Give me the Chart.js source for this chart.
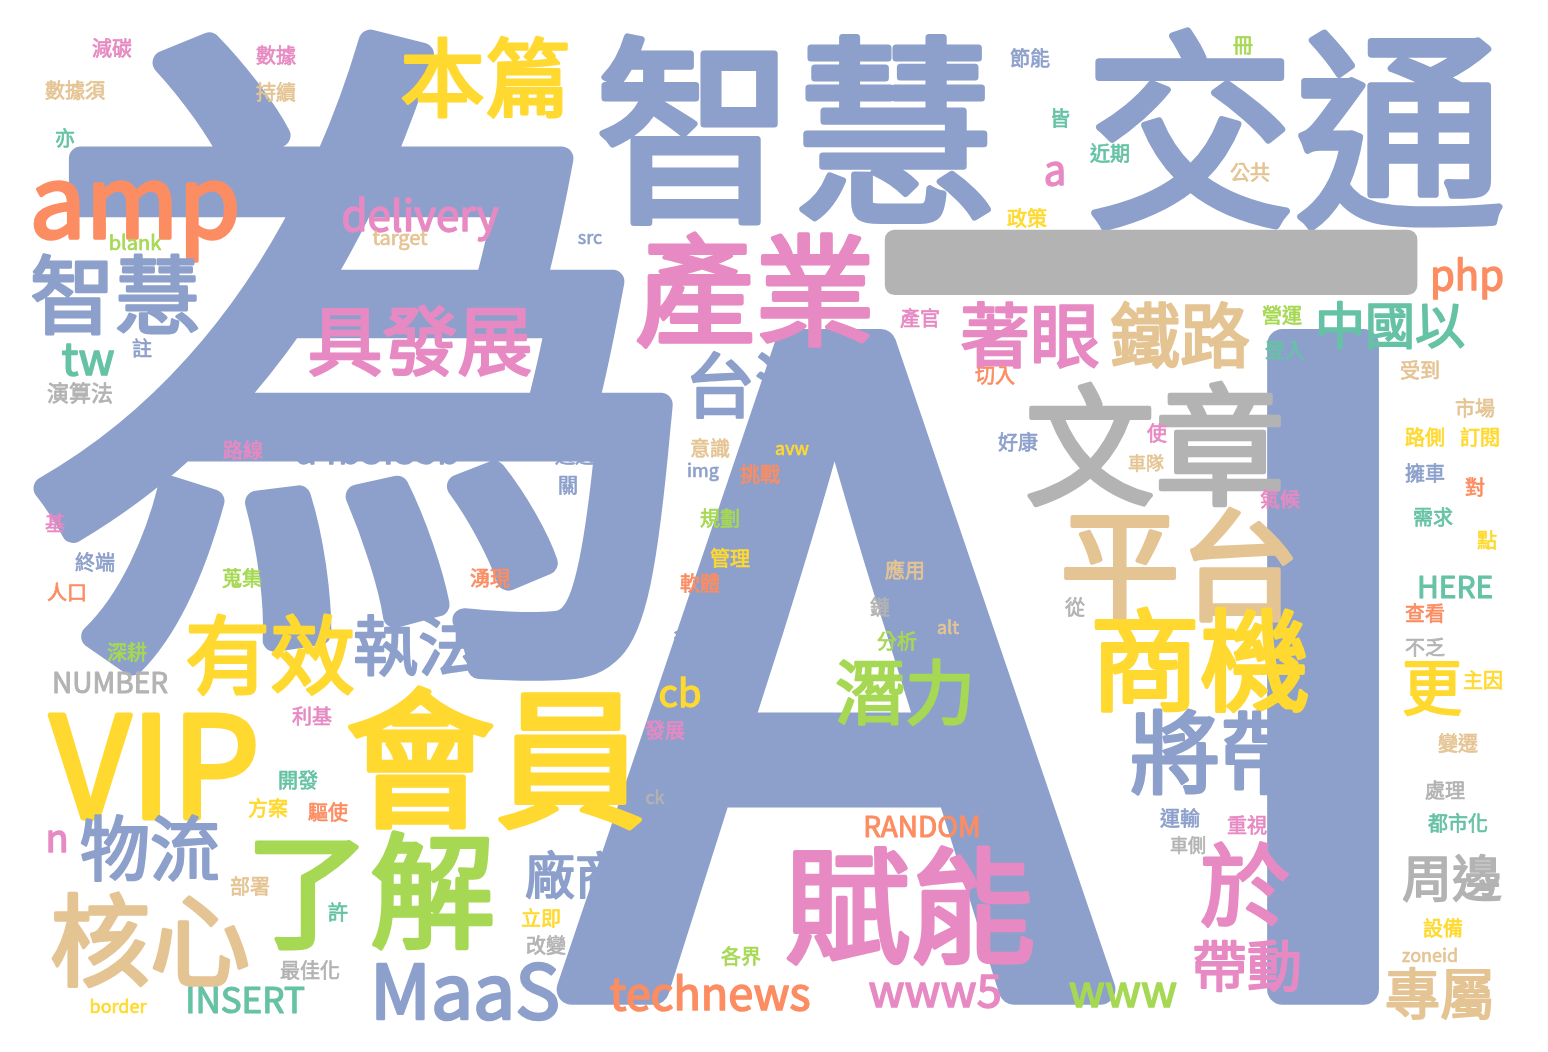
<!DOCTYPE html>
<html>
<head>
<meta charset="utf-8">
<script src="https://cdn.jsdelivr.net/npm/chart.js@4/dist/chart.umd.min.js"></script>
<style>
  html, body { margin: 0; padding: 0; background: #fff; }
  canvas { display: block; }
</style>
</head>
<body>
<canvas id="cloud" width="1548" height="1052"></canvas>
<script>
// word cloud data: word, centre x/y (picture units), weight, colour group
const words = ['為','AI','智慧','交通','一','本篇','amp','delivery','target','blank','src','產業','智慧','具發展','tw','註','演算法','著眼','鐵路','中國以','php','台灣','產官','營運','登入','切入','受到','文章','市場','路側','訂閱','a4b3f35b','路線','透過','關','意識','avw','img','挑戰','好康','使','車隊','氣候','擁車','對','平台','需求','點','基','終端','人口','規劃','管理','軟體','蒐集','湧現','應用','鏈','從','HERE','查看','不乏','主因','有效','執法','深耕','NUMBER','多相','分析','alt','商機','潛力','cb','更','VIP','會員','利基','發展','將帶','變遷','開發','方案','驅使','ck','處理','RANDOM','運輸','重視','都市化','車側','n','物流','了解','賦能','於','周邊','廠商','部署','核心','許','立即','改變','設備','zoneid','最佳化','各界','帶動','MaaS','technews','www5','www','專屬','INSERT','border','href','減碳','數據','數據須','持續','亦','節能','冊','皆','近期','a','公共','政策'];
const wordX = [365,1010,795,1295,1150,485,135,420,400,135,590,755,115,420,88,142,80,1030,1180,1390,1467,755,920,1282,1285,995,1420,1155,1475,1425,1480,378,243,575,568,710,792,703,760,1018,1157,1146,1280,1425,1475,1180,1433,1487,55,95,67,720,730,700,242,490,905,880,1075,1455,1425,1425,1483,270,418,127,110,693,897,948,1200,905,680,1432,155,495,312,665,1220,1458,298,268,328,655,1445,922,1180,1247,1458,1188,57,150,370,910,1245,1452,575,250,150,338,541,546,1443,1430,310,741,1247,465,710,935,1123,1440,245,118,1323,112,276,75,276,65,1030,1243,1060,1110,1055,1250,1027];
const wordY = [355,655,130,130,268,78,200,215,237,242,237,290,295,340,358,348,393,335,335,325,275,385,318,315,350,375,370,445,408,437,437,450,450,455,485,448,448,470,474,442,433,463,499,473,487,565,517,540,523,562,592,518,558,583,578,578,570,607,607,587,613,647,680,655,645,652,682,637,641,627,660,692,693,687,765,758,716,730,752,743,780,808,812,797,790,826,818,825,823,845,838,848,890,905,885,878,875,886,940,912,918,945,928,955,970,956,965,990,993,990,990,993,1000,1006,993,48,55,90,92,138,58,45,118,153,170,172,218];
const wordSize = [680,880,200,210,560,85,100,42,20,20,18,120,85,75,45,20,22,70,70,50,40,70,20,20,20,20,20,130,20,20,20,38,20,20,20,20,18,18,20,20,20,18,20,20,20,120,20,20,20,20,20,20,20,20,20,20,20,20,20,30,20,20,20,85,65,20,28,20,20,18,110,70,38,60,140,150,20,20,90,20,20,20,20,18,20,28,20,20,20,18,38,70,125,125,90,50,50,20,100,20,20,20,20,18,20,20,55,75,45,45,45,55,35,18,18,20,20,20,20,20,20,20,20,20,40,20,20];
const wordColor = ['b','b','b','b','g','y','o','p','t','l','b','p','b','p','c','b','g','p','t','c','o','b','p','l','c','o','t','g','t','y','y','b','p','b','b','t','y','b','o','b','p','t','p','b','o','t','c','y','p','b','o','l','y','o','l','o','t','g','g','c','o','g','y','y','b','l','g','b','l','t','y','l','y','y','y','y','p','p','b','t','c','y','o','g','g','o','b','p','c','g','p','b','l','p','p','g','b','t','t','c','y','g','y','t','g','l','p','b','o','p','l','t','c','y','b','p','p','t','t','c','b','l','c','c','p','t','y'];

const palette = { b:'#8da0cb', o:'#fc8d62', l:'#a6d854', y:'#ffd92f', p:'#e78ac3', t:'#e5c494', g:'#b3b3b3', c:'#66c2a5' };

const textPlugin = {
  id: 'wordText',
  afterDatasetsDraw(chart){
    const ctx = chart.ctx;
    const meta = chart.getDatasetMeta(0);
    ctx.save();
    ctx.textAlign = 'center';
    ctx.textBaseline = 'middle';
    ctx.lineJoin = 'round';
    ctx.lineCap = 'round';
    meta.data.forEach((pt, i) => {
      const s = wordSize[i];
      ctx.font = `${s}px "Noto Sans CJK TC", "Noto Sans", sans-serif`;
      ctx.letterSpacing = words[i] === 'AI' ? '90px' : '0px';
      const dx = words[i] === 'AI' ? 45 : 0;
      ctx.fillStyle = palette[wordColor[i]];
      ctx.strokeStyle = palette[wordColor[i]];
      ctx.lineWidth = s * 0.035;
      ctx.fillText(words[i], pt.x + dx, pt.y);
      ctx.strokeText(words[i], pt.x + dx, pt.y);
    });
    ctx.restore();
  }
};

new Chart(document.getElementById('cloud'), {
  type: 'scatter',
  data: {
    datasets: [{ data: words.map((w, i) => ({ x: wordX[i], y: wordY[i] })), pointRadius: 0 }]
  },
  options: {
    responsive: false,
    devicePixelRatio: 1,
    animation: false,
    layout: { padding: 0 },
    plugins: { legend: { display: false }, tooltip: { enabled: false } },
    scales: {
      x: { type: 'linear', min: 0, max: 1548, display: false },
      y: { type: 'linear', min: 0, max: 1052, reverse: true, display: false }
    }
  },
  plugins: [textPlugin]
});
</script>
</body>
</html>
